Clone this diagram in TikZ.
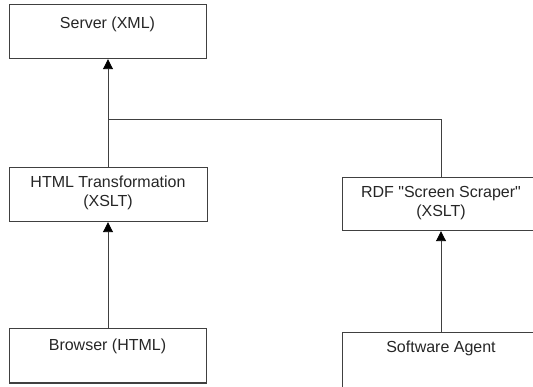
\documentclass[tikz,border=0pt]{standalone}
\usepackage{fontspec}
\setmainfont{Liberation Sans}[Ligatures=TeXOff]
\usetikzlibrary{arrows.meta}
\begin{document}
\begin{tikzpicture}[x=1pt,y=-1pt,
  box/.style={draw=black!75,line width=1pt,fill=white},
  lbl/.style={font=\fontsize{16}{19.5}\selectfont,align=center,text=black!85,inner sep=0pt},
  conn/.style={draw=black!75,line width=0.9pt},
  arr/.style={conn,-{Triangle[length=10pt,width=10pt,color=black]}}]
\useasboundingbox (0,0) rectangle (533,387);
\clip (0,0) rectangle (533,387);
\fill[white] (0,0) rectangle (533,387);
% boxes
\path[box] (9,5) rectangle (206,59);
\node (server) [inner sep=0pt, minimum width=197pt, minimum height=54pt] at (107.5,32) {};
\node[lbl] (serverT) at (107.5,24) {Server (XML)};

\path[box] (9,168) rectangle (207,222);
\node (html) [inner sep=0pt, minimum width=198pt, minimum height=54pt] at (108,195) {};
\node[lbl] (htmlT) at (108,193) {HTML Transformation\\(XSLT)};

\path[box] (9,329) rectangle (206,383);
\node (browser) [inner sep=0pt, minimum width=197pt, minimum height=54pt] at (107.5,356) {};
\node[lbl] (browserT) at (107.5,346) {Browser (HTML)};

\path[box] (342,178) rectangle (540,231);
\node (rdf) [inner sep=0pt, minimum width=198pt, minimum height=53pt] at (441,204.5) {};
\node[lbl] (rdfT) at (441,203) {RDF "Screen Scraper"\\(XSLT)};

\path[box] (342,333) rectangle (540,392);
\node (agent) [inner sep=0pt, minimum width=198pt, minimum height=59pt] at (441,362.5) {};
\node[lbl] (agentT) at (441,348) {Software Agent};

% connectors
\coordinate (j) at (108,119);
\draw[arr] (html.north -| j) -- (server.south -| j);
\draw[conn] (rdf.north) |- (j);
\draw[arr] (browser.north -| j) -- (html.south -| j);
\draw[arr] (agent.north) -- (rdf.south);
\end{tikzpicture}
\end{document}
